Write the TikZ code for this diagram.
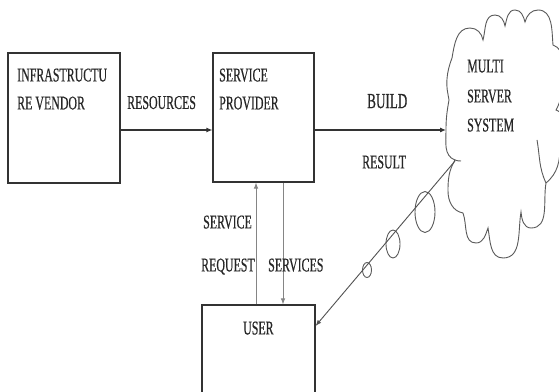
\documentclass[tikz,border=0pt]{standalone}
\usepackage{fontspec}
\newfontfamily\lblfont[FakeStretch=0.61,FakeBold=0.4]{Liberation Serif}
\usetikzlibrary{arrows.meta,shapes.geometric}
\definecolor{ink}{HTML}{262626}
\definecolor{boxc}{HTML}{333333}
\definecolor{lightline}{HTML}{858585}
\definecolor{cloudc}{HTML}{5A5A5A}
\tikzset{
  boxnode/.style={draw=boxc, line width=1.1pt, inner sep=0pt},
  txt/.style={inner sep=0pt, anchor=west, text=ink, font=\lblfont\fontsize{19.5}{22}\selectfont, text height=12.9pt, text depth=0pt},
  bigtxt/.style={txt, font=\lblfont\fontsize{21.5}{24}\selectfont, text height=14.2pt},
  arr/.style={draw=boxc, line width=1.1pt, -{Latex[length=6pt,width=5pt]}},
  thinarr/.style={draw=boxc!85!white, line width=0.9pt, -{Latex[length=6pt,width=4.5pt]}},
  grayarr/.style={draw=lightline, line width=0.9pt, -{Latex[length=6pt,width=4.5pt]}},
  cloudline/.style={draw=cloudc, line width=0.9pt},
  bubble/.style={ellipse, draw=cloudc, line width=0.9pt, inner sep=0pt}
}
\begin{document}
\begin{tikzpicture}[x=1pt,y=1pt]
\useasboundingbox (0,0) rectangle (559,391);
\fill[white] (0,0) rectangle (559,391);

% boxes
\node[boxnode, minimum width=112pt, minimum height=130pt] (vendor) at (64,273) {};
\node[boxnode, minimum width=101pt, minimum height=129pt] (provider) at (263.5,273.5) {};
\node[boxnode, minimum width=113pt, minimum height=120pt] (user) at (258.5,26) {};

% box texts
\node[txt] (vendorA) at (17,316) {INFRASTRUCTU};
\node[txt] (vendorB) at (17,288) {RE VENDOR};
\node[txt] (provA) at (219,316) {SERVICE};
\node[txt] (provB) at (219,288) {PROVIDER};
\node[txt] (userT) at (243,63) {USER};

% cloud
\draw[cloudline] (452,333)
  to[out=80,in=180] (470,363) to[out=0,in=100] (483,351)
  to[out=75,in=180] (495,376) to[out=0,in=100] (505,365)
  to[out=75,in=180] (515,381) to[out=0,in=105] (525,369)
  to[out=75,in=180] (538,381) to[out=0,in=95] (553,346)
  to[out=-20,in=90] (561,310) to[out=-90,in=60] (556,281)
  to[out=-20,in=90] (560,245) to[out=-90,in=40] (546,208)
  to[out=-100,in=0] (531,163) to[out=180,in=-85] (521,179)
  to[out=-100,in=0] (503,133) to[out=180,in=-80] (488,163)
  to[out=-110,in=0] (476,148) to[out=180,in=-70] (463,178)
  to[out=170,in=-90] (448,200) to[out=90,in=-120] (455,231)
  to[out=160,in=-90] (446,261) to[out=90,in=-100] (449,291)
  to[out=100,in=-95] (447,312) to[out=85,in=-110] (452,333);
\draw[cloudline] (537,251) to[out=-80,in=115] (546,208);
\draw[cloudline] (455,231) to[out=-10,in=190] (461,230);
\node[txt] (multiA) at (467,325) {MULTI};
\node[txt] (multiB) at (467,295) {SERVER};
\node[txt] (multiC) at (467,266) {SYSTEM};

% thought bubbles
\node[bubble, minimum width=20pt, minimum height=41pt] (bubA) at (425,179) {};
\node[bubble, minimum width=14pt, minimum height=28pt] (bubB) at (393,147) {};
\node[bubble, minimum width=9pt, minimum height=15pt] (bubC) at (367,121) {};

% connectors
\coordinate (cloudL) at (446,261);
\coordinate (cloudR) at (455,230);
\draw[arr] ([yshift=-12pt]vendor.east) -- ([yshift=-12.5pt]provider.west);
\draw[arr] ([yshift=-12.5pt]provider.east) -- (cloudL);
\draw[grayarr] (user.north -| 256,0) -- (provider.south -| 256,0);
\draw[grayarr] (provider.south -| 283,0) -- (user.north -| 283,0);
\draw[thinarr] (cloudR) -- (user.east |- 0,65);

% connector labels
\node[txt] (resLbl) at (127,288.5) {RESOURCES};
\node[bigtxt] (buildLbl) at (367,290) {BUILD};
\node[txt] (resultLbl) at (362,229) {RESULT};
\node[txt] (reqA) at (203,169) {SERVICE};
\node[txt] (reqB) at (201,126) {REQUEST};
\node[txt] (servLbl) at (268,126) {SERVICES};
\end{tikzpicture}
\end{document}
